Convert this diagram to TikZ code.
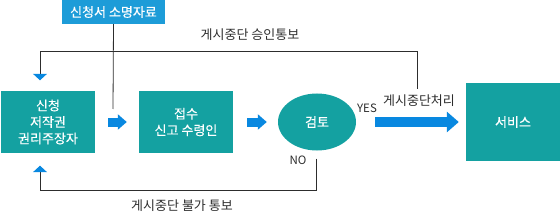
\documentclass[tikz,border=0pt]{standalone}
\usepackage{fontspec}
\setmainfont{Noto Sans CJK KR}
\newfontfamily\boxfont[FakeBold=0.5]{Noto Sans CJK KR}
\usetikzlibrary{arrows.meta, positioning, calc, shapes.geometric}
\definecolor{rtteal}{RGB}{20,161,161}
\definecolor{rtblue}{RGB}{29,156,216}
\definecolor{rtarrow}{RGB}{8,136,224}
\definecolor{rtline}{RGB}{45,45,45}

\begin{document}
\begin{tikzpicture}[x=1pt, y=-1pt,
      box/.style={rectangle, fill=rtteal, text=white, minimum width=94pt, minimum height=61pt, inner sep=0pt, font=\boxfont\fontsize{13}{16.5}\selectfont, align=center},
      srcbox/.style={rectangle, fill=rtblue, text=white, minimum width=103pt, minimum height=24pt, inner sep=0pt, font=\boxfont\fontsize{13}{14}\selectfont},
      revnode/.style={ellipse, fill=rtteal, text=white, minimum width=78pt, minimum height=57pt, inner sep=0pt, font=\boxfont\fontsize{13}{14}\selectfont},
      lbl/.style={inner sep=1pt, text=rtline, font=\fontsize{13}{15}\selectfont},
      yn/.style={inner sep=1pt, text=rtline, font=\fontsize{11.5}{13}\selectfont},
      link/.style={draw=rtline, line width=0.8pt},
      back/.style={link, -{Triangle[length=6.5pt, width=14pt, color=rtarrow]}},
      fat/.style={draw=rtarrow, line width=9pt, -{Triangle[length=9pt, width=15pt]}},
      fatlong/.style={draw=rtarrow, line width=10pt, -{Triangle[length=12pt, width=20pt]}}]
    \useasboundingbox (0,0) rectangle (560,222);
    \node[srcbox] (src) at (113.5,12) {신청서 소명자료};
    \node[box] (app) at (48,122) {신청\\저작권\\권리주장자};
    \node[box] (rcv) at (186,122) {접수\\신고 수령인};
    \node[revnode] (rev) at (317,122) {검토};
    \node[box, minimum height=78pt] (svc) at (513,122) {서비스};
    \node[lbl] (halt) at (419,101) {게시중단처리};
    \node[lbl] (okmsg) at (250,35) {게시중단 승인통보};
    \node[lbl] (nomsg) at (182,206) {게시중단 불가 통보};
    \node[yn] (yes) at (367,108) {YES};
    \node[yn] (no) at (298,160) {NO};
    \coordinate (srcend) at (113,109);
    \coordinate (okturn) at (40,51);
    \coordinate (noturn) at (40,190);
    % thin lines
    \draw[link] (src.south) -- (srcend);
    \draw[back] (417,89) |- (okturn) -- ([xshift=-8pt, yshift=11pt]app.north);
    \draw[back] ([xshift=-1pt, yshift=-8pt]rev.south) |- (noturn) -- ([xshift=-8pt, yshift=-13pt]app.south);
    % block arrows
    \draw[fat] ([xshift=13pt]app.east) -- ([xshift=-12pt]rcv.west);
    \draw[fat] ([xshift=14pt]rcv.east) -- ([xshift=-11pt]rev.west);
    \draw[fatlong] ([xshift=19pt]rev.east) -- ([xshift=-7pt]svc.west);
  \end{tikzpicture}
\end{document}
